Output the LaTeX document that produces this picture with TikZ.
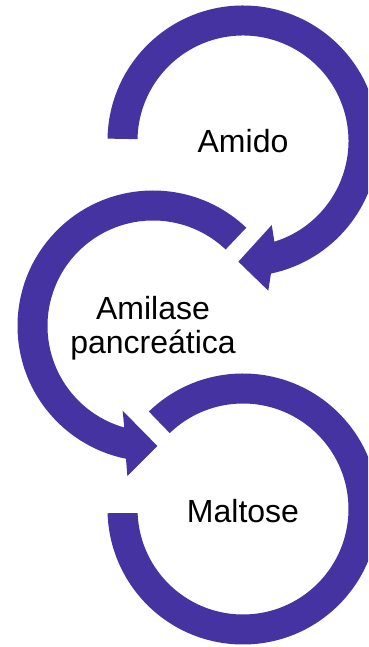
\documentclass[tikz,border=0pt]{standalone}
\usepackage{fontspec}
\setmainfont{Liberation Sans}
\definecolor{ringpurple}{RGB}{68,51,160}
\tikzset{
  ring/.style={fill=ringpurple},
  label text/.style={font=\fontsize{32}{34}\selectfont, align=center, inner sep=0pt}
}
\begin{document}
\begin{tikzpicture}[x=1pt,y=1pt]
	\clip (0,0) rectangle (368,647);
	\coordinate (top) at (243,506);
	\coordinate (mid) at (153,321);
	\coordinate (bot) at (243,138);
	% first ring, arrow points to the second one
	\begin{scope}[shift={(top)}]
		\fill[ring] (179:135.5) arc[start angle=179, end angle=-78.1, radius=135.5]
			-- (-80.4:151.8) -- (-92.2:120.8) -- (-71.1:88.8)
			-- (-72.7:105.5) arc[start angle=-72.7, end angle=179, radius=105.5] -- cycle;
	\end{scope}
	% second ring
	\begin{scope}[shift={(mid)}]
		\fill[ring] (46.5:135.5) arc[start angle=46.5, end angle=258.5, radius=135.5]
			-- (260.3:152.2) -- (272.1:120.1) -- (250.3:90)
			-- (254.2:105.5) arc[start angle=254.2, end angle=46.5, radius=105.5] -- cycle;
	\end{scope}
	% last ring, no arrow
	\begin{scope}[shift={(bot)}]
		\fill[ring] (134:135.5) arc[start angle=134, end angle=-178.2, radius=135.5]
			-- (-177.7:105.5) arc[start angle=-177.7, end angle=134, radius=105.5] -- cycle;
	\end{scope}
	\node[label text] (amido) at (top) {Amido};
	\node[label text, yshift=-2] (amilase) at (mid) {Amilase\\pancreática};
	\node[label text, yshift=-2] (maltose) at (bot) {Maltose};
\end{tikzpicture}
\end{document}
